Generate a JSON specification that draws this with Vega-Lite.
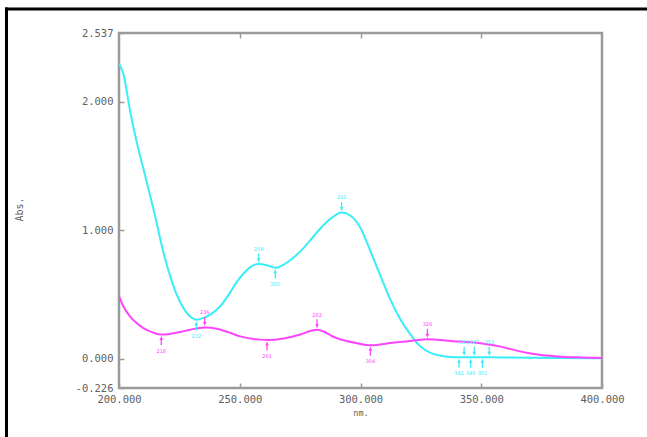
{
  "$schema": "https://vega.github.io/schema/vega-lite/v6.json",
  "width": 483,
  "height": 355,
  "autosize": {"type": "none"},
  "padding": {"left": 119, "top": 33, "right": 45, "bottom": 49},
  "background": "white",
  "config": {
    "view": {"stroke": "#9a9a9a", "strokeWidth": 2.5},
    "axis": {
      "grid": false,
      "domain": false,
      "labelFont": "DejaVu Sans Mono",
      "labelFontSize": 10.5,
      "labelColor": "#606060",
      "labelFlush": false,
      "labelOverlap": false,
      "labelBound": false,
      "titleFont": "DejaVu Sans Mono",
      "titleFontWeight": "normal",
      "titleFontSize": 9,
      "titleColor": "#606060",
      "tickColor": "#9a9a9a",
      "tickWidth": 1.5
    }
  },
  "datasets": {
    "spec": [
      {"series": "A", "nm": 200.0, "abs": 2.30},
      {"series": "A", "nm": 201.8, "abs": 2.22},
      {"series": "A", "nm": 204.6, "abs": 1.93},
      {"series": "A", "nm": 207.3, "abs": 1.69},
      {"series": "A", "nm": 210.1, "abs": 1.48},
      {"series": "A", "nm": 212.9, "abs": 1.27},
      {"series": "A", "nm": 215.6, "abs": 1.06},
      {"series": "A", "nm": 217.0, "abs": 0.94},
      {"series": "A", "nm": 219.1, "abs": 0.78},
      {"series": "A", "nm": 221.2, "abs": 0.645},
      {"series": "A", "nm": 223.9, "abs": 0.50},
      {"series": "A", "nm": 226.7, "abs": 0.395},
      {"series": "A", "nm": 229.5, "abs": 0.33},
      {"series": "A", "nm": 232.0, "abs": 0.305},
      {"series": "A", "nm": 235.0, "abs": 0.32},
      {"series": "A", "nm": 237.8, "abs": 0.345},
      {"series": "A", "nm": 241.9, "abs": 0.41},
      {"series": "A", "nm": 246.1, "abs": 0.52},
      {"series": "A", "nm": 248.8, "abs": 0.60},
      {"series": "A", "nm": 251.6, "abs": 0.665},
      {"series": "A", "nm": 254.4, "abs": 0.715},
      {"series": "A", "nm": 257.8, "abs": 0.74},
      {"series": "A", "nm": 261.3, "abs": 0.73},
      {"series": "A", "nm": 264.7, "abs": 0.71},
      {"series": "A", "nm": 268.2, "abs": 0.735},
      {"series": "A", "nm": 272.3, "abs": 0.79},
      {"series": "A", "nm": 276.5, "abs": 0.865},
      {"series": "A", "nm": 280.6, "abs": 0.955},
      {"series": "A", "nm": 284.8, "abs": 1.045},
      {"series": "A", "nm": 288.9, "abs": 1.11},
      {"series": "A", "nm": 292.2, "abs": 1.14},
      {"series": "A", "nm": 295.9, "abs": 1.115},
      {"series": "A", "nm": 300.0, "abs": 1.02},
      {"series": "A", "nm": 304.1, "abs": 0.84},
      {"series": "A", "nm": 308.3, "abs": 0.645},
      {"series": "A", "nm": 312.4, "abs": 0.46},
      {"series": "A", "nm": 316.6, "abs": 0.305},
      {"series": "A", "nm": 320.7, "abs": 0.19},
      {"series": "A", "nm": 324.9, "abs": 0.096},
      {"series": "A", "nm": 329.0, "abs": 0.048},
      {"series": "A", "nm": 333.2, "abs": 0.025},
      {"series": "A", "nm": 337.3, "abs": 0.016},
      {"series": "A", "nm": 345.0, "abs": 0.013},
      {"series": "A", "nm": 360.0, "abs": 0.012},
      {"series": "A", "nm": 380.0, "abs": 0.008},
      {"series": "A", "nm": 400.0, "abs": 0.005},
      {"series": "B", "nm": 200.0, "abs": 0.49},
      {"series": "B", "nm": 201.8, "abs": 0.41},
      {"series": "B", "nm": 204.6, "abs": 0.33},
      {"series": "B", "nm": 207.3, "abs": 0.28},
      {"series": "B", "nm": 210.1, "abs": 0.24},
      {"series": "B", "nm": 214.2, "abs": 0.205},
      {"series": "B", "nm": 217.5, "abs": 0.19},
      {"series": "B", "nm": 221.0, "abs": 0.195},
      {"series": "B", "nm": 225.3, "abs": 0.21},
      {"series": "B", "nm": 229.5, "abs": 0.228},
      {"series": "B", "nm": 235.5, "abs": 0.245},
      {"series": "B", "nm": 240.5, "abs": 0.235},
      {"series": "B", "nm": 243.3, "abs": 0.22},
      {"series": "B", "nm": 246.5, "abs": 0.20},
      {"series": "B", "nm": 250.2, "abs": 0.176},
      {"series": "B", "nm": 255.7, "abs": 0.155},
      {"series": "B", "nm": 261.3, "abs": 0.148},
      {"series": "B", "nm": 268.2, "abs": 0.16},
      {"series": "B", "nm": 275.1, "abs": 0.19},
      {"series": "B", "nm": 279.5, "abs": 0.22},
      {"series": "B", "nm": 282.0, "abs": 0.228},
      {"series": "B", "nm": 285.0, "abs": 0.212},
      {"series": "B", "nm": 288.5, "abs": 0.175},
      {"series": "B", "nm": 293.1, "abs": 0.145},
      {"series": "B", "nm": 298.6, "abs": 0.122},
      {"series": "B", "nm": 304.1, "abs": 0.106},
      {"series": "B", "nm": 309.7, "abs": 0.117},
      {"series": "B", "nm": 315.2, "abs": 0.13},
      {"series": "B", "nm": 322.1, "abs": 0.143},
      {"series": "B", "nm": 327.7, "abs": 0.153},
      {"series": "B", "nm": 333.2, "abs": 0.148},
      {"series": "B", "nm": 337.3, "abs": 0.14},
      {"series": "B", "nm": 341.5, "abs": 0.135},
      {"series": "B", "nm": 349.8, "abs": 0.123},
      {"series": "B", "nm": 358.1, "abs": 0.096},
      {"series": "B", "nm": 366.4, "abs": 0.057},
      {"series": "B", "nm": 374.7, "abs": 0.031},
      {"series": "B", "nm": 383.0, "abs": 0.018},
      {"series": "B", "nm": 391.3, "abs": 0.012},
      {"series": "B", "nm": 400.0, "abs": 0.008}
    ],
    "marks": [
      {"series": "A", "kind": "valley", "nm": 232.0, "abs": 0.305, "label": "232"},
      {"series": "A", "kind": "peak", "nm": 257.8, "abs": 0.74, "label": "258"},
      {"series": "A", "kind": "valley", "nm": 264.7, "abs": 0.71, "label": "265"},
      {"series": "A", "kind": "peak", "nm": 292.2, "abs": 1.14, "label": "292"},
      {"series": "A", "kind": "valley", "nm": 340.8, "abs": 0.013, "label": "341"},
      {"series": "A", "kind": "peak", "nm": 342.9, "abs": 0.013, "label": "343"},
      {"series": "A", "kind": "valley", "nm": 345.6, "abs": 0.013, "label": "346"},
      {"series": "A", "kind": "peak", "nm": 347.1, "abs": 0.013, "label": "347"},
      {"series": "A", "kind": "valley", "nm": 350.5, "abs": 0.013, "label": "351"},
      {"series": "A", "kind": "peak", "nm": 353.3, "abs": 0.013, "label": "353"},
      {"series": "B", "kind": "valley", "nm": 217.5, "abs": 0.19, "label": "218"},
      {"series": "B", "kind": "peak", "nm": 235.5, "abs": 0.245, "label": "236"},
      {"series": "B", "kind": "valley", "nm": 261.3, "abs": 0.148, "label": "261"},
      {"series": "B", "kind": "peak", "nm": 282.0, "abs": 0.228, "label": "282"},
      {"series": "B", "kind": "valley", "nm": 304.1, "abs": 0.106, "label": "304"},
      {"series": "B", "kind": "peak", "nm": 327.7, "abs": 0.153, "label": "328"}
    ]
  },
  "layer": [
    {
      "data": {"name": "spec"},
      "mark": {"type": "point", "opacity": 0},
      "encoding": {
        "x": {"field": "nm", "type": "quantitative",
          "scale": {"domain": [200, 400], "range": [-114.5, 560], "zero": false, "nice": false},
          "axis": {"orient": "top", "offset": 24.5, "domain": true, "domainColor": "#000000", "domainWidth": 3, "ticks": false, "labels": false, "title": null}},
        "y": {"field": "abs", "type": "quantitative",
          "scale": {"domain": [-0.226, 2.537], "range": [430, -26], "zero": false, "nice": false},
          "axis": {"orient": "left", "offset": 113, "domain": true, "domainColor": "#000000", "domainWidth": 3, "ticks": false, "labels": false, "title": null}}
      }
    },
    {
      "data": {"name": "spec"},
      "mark": {"type": "line", "interpolate": "monotone", "strokeWidth": 2, "clip": true},
      "encoding": {
        "x": {"field": "nm", "type": "quantitative",
          "scale": {"domain": [200, 400], "zero": false, "nice": false},
          "axis": {"orient": "bottom", "values": [200, 250, 300, 350, 400], "tickSize": -5, "labelPadding": 11,
            "labelExpr": "replace(format(datum.value, '.3f'), '\u2212', '-')",
            "title": "nm.", "titleY": 24, "titleBaseline": "middle", "titleFontSize": 8.5}},
        "y": {"field": "abs", "type": "quantitative",
          "scale": {"domain": [-0.226, 2.537], "zero": false, "nice": false},
          "axis": {"orient": "left", "values": [-0.226, 0, 1, 2, 2.537], "tickSize": -5, "labelPadding": 11,
            "labelExpr": "replace(format(datum.value, '.3f'), '\u2212', '-')",
            "title": "Abs.", "titleX": -100, "titleY": 176, "titleAngle": -90, "titleBaseline": "middle", "titleAlign": "center", "titleFontSize": 10}},
        "color": {"field": "series", "type": "nominal", "scale": {"domain": ["A", "B"], "range": ["#38EEF8", "#FF44FF"]}, "legend": null},
        "detail": {"field": "series"}
      }
    },
    {
      "data": {"name": "marks"},
      "transform": [{"filter": "datum.kind === 'peak'"}],
      "mark": {"type": "point", "shape": "arrow", "angle": 180, "size": 81, "filled": true, "opacity": 1, "yOffset": -6},
      "encoding": {
        "x": {"field": "nm", "type": "quantitative",
          "scale": {"domain": [200, 400], "zero": false, "nice": false},
          "axis": {"orient": "top", "values": [250, 300, 350], "tickSize": -5, "labels": false, "title": null}},
        "y": {"field": "abs", "type": "quantitative",
          "scale": {"domain": [-0.226, 2.537], "zero": false, "nice": false}, "axis": null},
        "color": {"field": "series", "type": "nominal", "scale": {"domain": ["A", "B"], "range": ["#38EEF8", "#FF44FF"]}, "legend": null}
      }
    },
    {
      "data": {"name": "marks"},
      "transform": [{"filter": "datum.kind === 'valley'"}],
      "mark": {"type": "point", "shape": "arrow", "angle": 0, "size": 81, "filled": true, "opacity": 1, "yOffset": 6},
      "encoding": {
        "x": {"field": "nm", "type": "quantitative",
          "scale": {"domain": [200, 400], "zero": false, "nice": false}, "axis": null},
        "y": {"field": "abs", "type": "quantitative",
          "scale": {"domain": [-0.226, 2.537], "zero": false, "nice": false}, "axis": null},
        "color": {"field": "series", "type": "nominal", "scale": {"domain": ["A", "B"], "range": ["#38EEF8", "#FF44FF"]}, "legend": null}
      }
    },
    {
      "data": {"name": "marks"},
      "transform": [{"filter": "datum.kind === 'peak'"}],
      "mark": {"type": "text", "fontSize": 5, "font": "DejaVu Sans", "yOffset": -15},
      "encoding": {
        "x": {"field": "nm", "type": "quantitative",
          "scale": {"domain": [200, 400], "zero": false, "nice": false}, "axis": null},
        "y": {"field": "abs", "type": "quantitative",
          "scale": {"domain": [-0.226, 2.537], "zero": false, "nice": false}, "axis": null},
        "text": {"field": "label"},
        "color": {"field": "series", "type": "nominal", "scale": {"domain": ["A", "B"], "range": ["#38EEF8", "#FF44FF"]}, "legend": null}
      }
    },
    {
      "data": {"name": "marks"},
      "transform": [{"filter": "datum.kind === 'valley'"}],
      "mark": {"type": "text", "fontSize": 5, "font": "DejaVu Sans", "yOffset": 16},
      "encoding": {
        "x": {"field": "nm", "type": "quantitative",
          "scale": {"domain": [200, 400], "zero": false, "nice": false}, "axis": null},
        "y": {"field": "abs", "type": "quantitative",
          "scale": {"domain": [-0.226, 2.537], "zero": false, "nice": false}, "axis": null},
        "text": {"field": "label"},
        "color": {"field": "series", "type": "nominal", "scale": {"domain": ["A", "B"], "range": ["#38EEF8", "#FF44FF"]}, "legend": null}
      }
    }
  ],
  "resolve": {
    "scale": {"x": "independent", "y": "independent"},
    "axis": {"x": "independent", "y": "independent"}
  }
}
